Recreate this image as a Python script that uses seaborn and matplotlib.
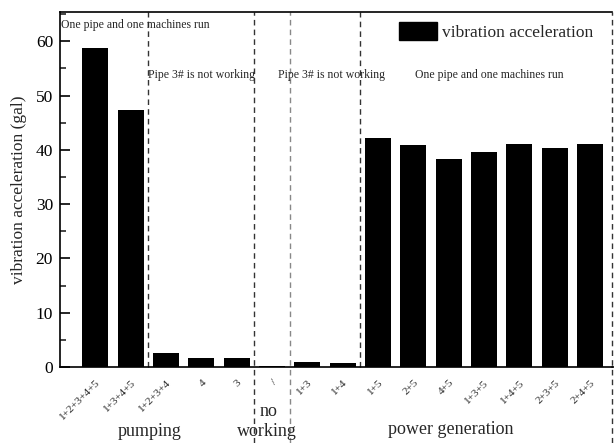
import matplotlib
matplotlib.use("Agg")
import matplotlib.pyplot as plt
from matplotlib.ticker import MultipleLocator
from matplotlib.patches import Patch
import seaborn as sns
import pandas as pd

# Operating combinations of units and their measured vibration acceleration
combos = ["1+2+3+4+5", "1+3+4+5", "1+2+3+4", "4", "3", "/", "1+3", "1+4",
          "1+5", "2+5", "4+5", "1+3+5", "1+4+5", "2+3+5", "2+4+5"]
accel = [58.7, 47.3, 2.5, 1.6, 1.6, 0.2, 0.9, 0.8,
         42.1, 40.9, 38.4, 39.6, 41.1, 40.3, 41.1]

# Group boundaries (between bars) and the text describing each group
dividers = [1.5, 4.5, 5.5, 7.5]
notes = ["One pipe and one machines run", "Pipe 3# is not working",
         "Pipe 3# is not working", "One pipe and one machines run"]
groups = ["pumping", "no", "working", "power generation"]

sns.set_theme(style="white")
plt.rcParams["font.family"] = ["Liberation Serif", "DejaVu Serif"]
plt.rcParams["mathtext.default"] = "regular"

df = pd.DataFrame({"combo": combos, "accel": accel})

fig = plt.figure(figsize=(6.14, 4.43), dpi=100)
ax = fig.add_axes([60 / 614, 1 - 367 / 443, 552 / 614, 355 / 443])

sns.barplot(data=df, x="combo", y="accel", order=combos, color="black",
            width=0.74, saturation=1, ax=ax, edgecolor="none")

ax.set_xlim(-1.0, 14.62)
ax.set_ylim(0, 65.4)
ax.yaxis.set_major_locator(MultipleLocator(10))
ax.yaxis.set_minor_locator(MultipleLocator(5))
ax.tick_params(axis="y", which="major", direction="in", length=7, width=1.2,
               labelsize=12.5, left=True, pad=5, colors="black")
ax.tick_params(axis="y", which="minor", direction="in", length=4, width=1.2,
               left=True)
ax.tick_params(axis="x", length=0, pad=8)
ax.set_xticks(range(len(combos)))
ax.set_xticklabels(combos, rotation=45, ha="right", rotation_mode="anchor",
                   fontsize=8)
ax.set_xlabel("")
ax.set_ylabel("vibration acceleration (gal)", fontsize=12.5, labelpad=6)

for side in ["left", "bottom", "top"]:
    ax.spines[side].set_color("black")
    ax.spines[side].set_linewidth(1.2)
ax.spines["right"].set_visible(False)
# baseline continues to the figure edge
ax.plot([14.62, 14.7], [0, 0], color="black", lw=1.2, clip_on=False)

# Dashed separators; some run down through the group labels
below = -76 / 355
dash = dict(color="#333333", lw=1.0, linestyle=(0, (4, 3)), clip_on=False)
ax.axvline(dividers[0], ymin=0, ymax=1, **dash)
ax.axvline(dividers[1], ymin=below, ymax=1, **dash)
ax.axvline(dividers[2], ymin=below, ymax=1, color="#888888", lw=1.0,
           linestyle=(0, (4, 3)), clip_on=False)
ax.axvline(dividers[3], ymin=0, ymax=1, **dash)
ax.axvline(14.62, ymin=below, ymax=1, **dash)

# Group notes inside the plot
ax.text(0.002, (367 - 25) / 355, notes[0], transform=ax.transAxes,
        fontsize=8.5, va="center", ha="left")
ax.text((148 - 60) / 552, (367 - 75) / 355, notes[1], transform=ax.transAxes,
        fontsize=8.5, va="center", ha="left")
ax.text((278 - 60) / 552, (367 - 75) / 355, notes[2], transform=ax.transAxes,
        fontsize=8.5, va="center", ha="left")
ax.text((415 - 60) / 552, (367 - 75) / 355, notes[3], transform=ax.transAxes,
        fontsize=8.5, va="center", ha="left")

# Group labels under the axis
fig.text(150 / 614, 1 - 432 / 443, groups[0], fontsize=13, ha="center", va="center")
fig.text(269 / 614, 1 - 411 / 443, groups[1], fontsize=13, ha="center", va="center")
fig.text(267 / 614, 1 - 431 / 443, groups[2], fontsize=13, ha="center", va="center")
fig.text(451 / 614, 1 - 430 / 443, groups[3], fontsize=13, ha="center", va="center")

handle = Patch(facecolor="black", edgecolor="black")
ax.legend([handle], ["vibration acceleration"], loc="upper right",
          frameon=False, fontsize=12.5, handlelength=2.2, handleheight=1.2,
          handletextpad=0.3, borderaxespad=0.2, bbox_to_anchor=(0.985, 1.0))

fig.savefig("out.png", dpi=100)
